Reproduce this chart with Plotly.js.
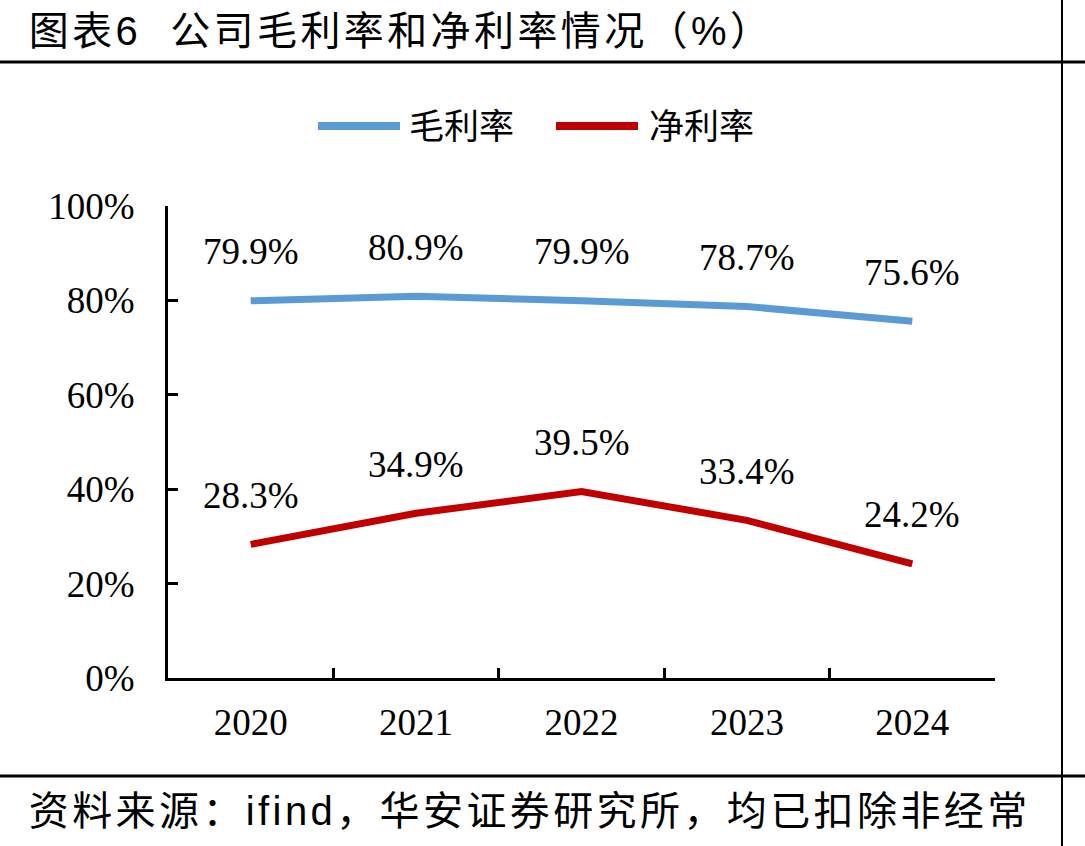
<!DOCTYPE html>
<html>
<head>
<meta charset="utf-8">
<script src="https://cdn.plot.ly/plotly-3.0.1.min.js"></script>
<style>
  html, body { margin: 0; padding: 0; background: #fff; }
  #chart { width: 1085px; height: 846px; }
  /* wider tracking for the header and source lines */
  g.annotation[data-index="10"] text, g.annotation[data-index="11"] text { letter-spacing: 3.4px; }
</style>
</head>
<body>
<div id="chart"></div>
<script>
// Yearly margins, in percent
const years = ['2020', '2021', '2022', '2023', '2024'];
const grossMargin = [79.9, 80.9, 79.9, 78.7, 75.6];
const netMargin = [28.3, 34.9, 39.5, 33.4, 24.2];
const seriesNames = ['毛利率', '净利率'];
const titleText = '图表6  公司毛利率和净利率情况（%）';
const sourceText = '资料来源：ifind，华安证券研究所，均已扣除非经常';

const W = 1085, H = 846;
const M = { l: 168, r: 90, t: 206, b: 168 };
const plotW = W - M.l - M.r, plotH = H - M.t - M.b;
const px2x = px => (px - M.l) / plotW;
const px2y = py => (H - M.b - py) / plotH;
const TRACK = 3.4; // letter-spacing of header/source lines (see CSS)
// tracking grows the text around its centre, so move the anchor by half the extra width
const trackedLeft = (px, s) => px2x(px + s.length * TRACK / 2);

const BLUE = '#5B9BD5', RED = '#C00000';
const serif = '"Liberation Serif", "Times New Roman", serif';
const cjk = '"Liberation Sans", "Noto Sans CJK SC", sans-serif';

const traces = [
  { x: years, y: grossMargin, name: seriesNames[0], type: 'scatter', mode: 'lines',
    line: { color: BLUE, width: 7 }, hoverinfo: 'skip' },
  { x: years, y: netMargin, name: seriesNames[1], type: 'scatter', mode: 'lines',
    line: { color: RED, width: 7 }, hoverinfo: 'skip' }
];

const annotations = [];
// Value labels above every point (category index used as x position)
[grossMargin, netMargin].forEach(vals => {
  vals.forEach((v, i) => {
    annotations.push({ x: i, y: v, xref: 'x', yref: 'y', text: v.toFixed(1) + '%',
      showarrow: false, yshift: 49, font: { family: serif, size: 37, color: '#000' } });
  });
});

// Header and footer text
annotations.push({ xref: 'paper', yref: 'paper', x: trackedLeft(27, titleText), y: px2y(31), xanchor: 'left', yanchor: 'middle',
  text: titleText, showarrow: false, font: { family: cjk, size: 40, color: '#000' } });
annotations.push({ xref: 'paper', yref: 'paper', x: trackedLeft(27, sourceText), y: px2y(811), xanchor: 'left', yanchor: 'middle',
  text: sourceText, showarrow: false, font: { family: cjk, size: 40, color: '#000' } });

// Legend entries drawn with long line samples
const legendItems = [
  { name: seriesNames[0], color: BLUE, x0: 318, x1: 400, tx: 407 },
  { name: seriesNames[1], color: RED, x0: 556, x1: 638, tx: 647 }
];
const shapes = [];
legendItems.forEach(it => {
  shapes.push({ type: 'line', xref: 'paper', yref: 'paper', x0: px2x(it.x0), x1: px2x(it.x1),
    y0: px2y(126), y1: px2y(126), line: { color: it.color, width: 8 } });
  annotations.push({ xref: 'paper', yref: 'paper', x: px2x(it.tx), y: px2y(126), xanchor: 'left', yanchor: 'middle',
    text: it.name, showarrow: false, font: { family: cjk, size: 35, color: '#000' } });
});

// Frame lines
shapes.push({ type: 'line', xref: 'paper', yref: 'paper', x0: px2x(0), x1: px2x(W), y0: px2y(62), y1: px2y(62),
  line: { color: '#000', width: 3 } });
shapes.push({ type: 'line', xref: 'paper', yref: 'paper', x0: px2x(0), x1: px2x(W), y0: px2y(776), y1: px2y(776),
  line: { color: '#000', width: 3 } });
shapes.push({ type: 'line', xref: 'paper', yref: 'paper', x0: px2x(1062), x1: px2x(1062), y0: px2y(0), y1: px2y(H),
  line: { color: '#000', width: 2 } });

const layout = {
  width: W, height: H, margin: M,
  paper_bgcolor: '#fff', plot_bgcolor: '#fff',
  showlegend: false,
  xaxis: {
    type: 'category', range: [-0.5, 4.5], showline: true, linecolor: '#000', linewidth: 3,
    ticks: 'inside', tickson: 'boundaries', ticklen: 10, tickwidth: 3, tickcolor: '#000',
    showgrid: false, zeroline: false, ticklabelstandoff: 10,
    tickfont: { family: serif, size: 37, color: '#000' }, fixedrange: true
  },
  yaxis: {
    range: [0, 100], dtick: 20, ticksuffix: '%', showline: true, linecolor: '#000', linewidth: 3,
    ticks: 'inside', ticklen: 10, tickwidth: 3, tickcolor: '#000',
    showgrid: false, zeroline: false, ticklabelstandoff: 23,
    tickfont: { family: serif, size: 37, color: '#000' }, fixedrange: true
  },
  annotations: annotations,
  shapes: shapes
};

Plotly.newPlot('chart', traces, layout, { displayModeBar: false, staticPlot: true });
</script>
</body>
</html>
